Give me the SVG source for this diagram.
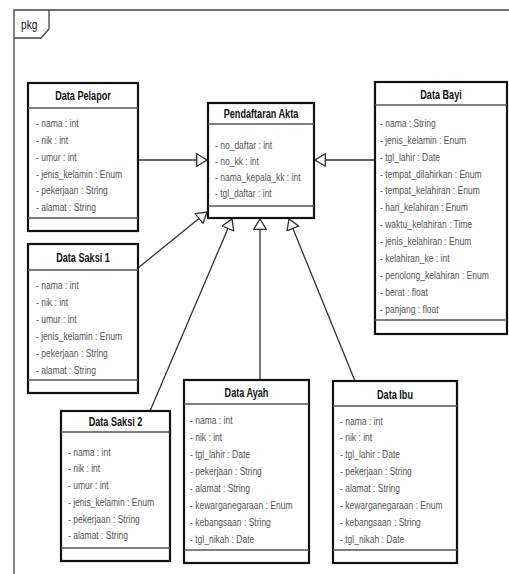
<svg xmlns="http://www.w3.org/2000/svg" width="509" height="574" viewBox="0 0 509 574">
<style>
.box{fill:#fff;stroke:#111;stroke-width:2.2}
.div{stroke:#555;stroke-width:1.5}
.t{font-family:"Liberation Sans",Arial,sans-serif;font-size:12px;font-weight:bold;fill:#111;text-anchor:middle}
.a{font-family:"Liberation Sans",Arial,sans-serif;font-size:11.5px;fill:#555}
.frame{fill:none;stroke:#444;stroke-width:1.3}
.conn{fill:none;stroke:#333;stroke-width:1.3}
</style>
<defs>
<marker id="tri" viewBox="0 0 12 14" refX="11" refY="7" markerWidth="12" markerHeight="14" markerUnits="userSpaceOnUse" orient="auto">
<path d="M0.7,0.7 L11,7 L0.7,13.3 Z" fill="#fff" stroke="#333" stroke-width="1.3"/>
</marker>
</defs>
<rect width="509" height="574" fill="#fff"/>
<g id="frame">
<path class="frame" d="M14,574 V10 H509"/>
<path class="frame" d="M14,38 H41 L49,29 V10"/>
<text class="a" style="fill:#111;font-size:12px" transform="translate(21,29) scale(.85,1)">pkg</text>
</g>
<g id="connectors">
<path class="conn" d="M138,160 L207,160" marker-end="url(#tri)"/>
<path class="conn" d="M375,160 L315,160" marker-end="url(#tri)"/>
<path class="conn" d="M138,268 L207,212" marker-end="url(#tri)"/>
<path class="conn" d="M150,411 L232,219" marker-end="url(#tri)"/>
<path class="conn" d="M260,380 L260,219" marker-end="url(#tri)"/>
<path class="conn" d="M355,381 L289,219" marker-end="url(#tri)"/>
</g>
<g id="data-pelapor">
<rect class="box" x="28" y="83" width="110" height="148"/>
<line class="div" x1="28" y1="108" x2="138" y2="108"/>
<line class="div" x1="28" y1="218" x2="138" y2="218"/>
<text class="t" transform="translate(83,100) scale(.76,1)">Data Pelapor</text>
<text class="a" transform="translate(36,127) scale(.74,1)">- nama : int</text>
<text class="a" transform="translate(36,144) scale(.74,1)">- nik : int</text>
<text class="a" transform="translate(36,161) scale(.74,1)">- umur : int</text>
<text class="a" transform="translate(36,178) scale(.74,1)">- jenis_kelamin : Enum</text>
<text class="a" transform="translate(36,194) scale(.74,1)">- pekerjaan : String</text>
<text class="a" transform="translate(36,211) scale(.74,1)">- alamat : String</text>
</g>
<g id="data-saksi-1">
<rect class="box" x="28" y="244" width="110" height="149"/>
<line class="div" x1="28" y1="270" x2="138" y2="270"/>
<line class="div" x1="28" y1="380" x2="138" y2="380"/>
<text class="t" transform="translate(83,262) scale(.76,1)">Data Saksi 1</text>
<text class="a" transform="translate(36,289) scale(.74,1)">- nama : int</text>
<text class="a" transform="translate(36,306) scale(.74,1)">- nik : int</text>
<text class="a" transform="translate(36,323) scale(.74,1)">- umur : int</text>
<text class="a" transform="translate(36,340) scale(.74,1)">- jenis_kelamin : Enum</text>
<text class="a" transform="translate(36,357) scale(.74,1)">- pekerjaan : String</text>
<text class="a" transform="translate(36,374) scale(.74,1)">- alamat : String</text>
</g>
<g id="data-saksi-2">
<rect class="box" x="61" y="411" width="109" height="150"/>
<line class="div" x1="61" y1="432" x2="170" y2="432"/>
<line class="div" x1="61" y1="548" x2="170" y2="548"/>
<text class="t" transform="translate(115.5,426) scale(.76,1)">Data Saksi 2</text>
<text class="a" transform="translate(68,456) scale(.74,1)">- nama : int</text>
<text class="a" transform="translate(68,472) scale(.74,1)">- nik : int</text>
<text class="a" transform="translate(68,489) scale(.74,1)">- umur : int</text>
<text class="a" transform="translate(68,506) scale(.74,1)">- jenis_kelamin : Enum</text>
<text class="a" transform="translate(68,523) scale(.74,1)">- pekerjaan : String</text>
<text class="a" transform="translate(68,539) scale(.74,1)">- alamat : String</text>
</g>
<g id="pendaftaran-akta">
<rect class="box" x="208" y="103" width="106" height="115"/>
<line class="div" x1="208" y1="124" x2="314" y2="124"/>
<line class="div" x1="208" y1="206" x2="314" y2="206"/>
<text class="t" transform="translate(261,118) scale(.76,1)">Pendaftaran Akta</text>
<text class="a" transform="translate(215,149) scale(.74,1)">- no_daftar : int</text>
<text class="a" transform="translate(215,165) scale(.74,1)">- no_kk : int</text>
<text class="a" transform="translate(215,181) scale(.74,1)">- nama_kepala_kk : int</text>
<text class="a" transform="translate(215,197) scale(.74,1)">- tgl_daftar : int</text>
</g>
<g id="data-bayi">
<rect class="box" x="375" y="82" width="132" height="252"/>
<line class="div" x1="375" y1="105" x2="507" y2="105"/>
<line class="div" x1="375" y1="320" x2="507" y2="320"/>
<text class="t" transform="translate(441,99) scale(.76,1)">Data Bayi</text>
<text class="a" transform="translate(380,127) scale(.74,1)">- nama : String</text>
<text class="a" transform="translate(380,144) scale(.74,1)">- jenis_kelamin : Enum</text>
<text class="a" transform="translate(380,161) scale(.74,1)">- tgl_lahir : Date</text>
<text class="a" transform="translate(380,178) scale(.74,1)">- tempat_dilahirkan : Enum</text>
<text class="a" transform="translate(380,194) scale(.74,1)">- tempat_kelahiran : Enum</text>
<text class="a" transform="translate(380,211) scale(.74,1)">- hari_kelahiran : Enum</text>
<text class="a" transform="translate(380,228) scale(.74,1)">- waktu_kelahiran : Time</text>
<text class="a" transform="translate(380,245) scale(.74,1)">- jenis_kelahiran : Enum</text>
<text class="a" transform="translate(380,262) scale(.74,1)">- kelahiran_ke : int</text>
<text class="a" transform="translate(380,279) scale(.74,1)">- penolong_kelahiran : Enum</text>
<text class="a" transform="translate(380,296) scale(.74,1)">- berat : float</text>
<text class="a" transform="translate(380,313) scale(.74,1)">- panjang : float</text>
</g>
<g id="data-ayah">
<rect class="box" x="184" y="380" width="125" height="183"/>
<line class="div" x1="184" y1="404" x2="309" y2="404"/>
<line class="div" x1="184" y1="550" x2="309" y2="550"/>
<text class="t" transform="translate(246.5,397) scale(.76,1)">Data Ayah</text>
<text class="a" transform="translate(190,424) scale(.74,1)">- nama : int</text>
<text class="a" transform="translate(190,441) scale(.74,1)">- nik : int</text>
<text class="a" transform="translate(190,458) scale(.74,1)">- tgl_lahir : Date</text>
<text class="a" transform="translate(190,475) scale(.74,1)">- pekerjaan : String</text>
<text class="a" transform="translate(190,492) scale(.74,1)">- alamat : String</text>
<text class="a" transform="translate(190,509) scale(.74,1)">- kewarganegaraan : Enum</text>
<text class="a" transform="translate(190,526) scale(.74,1)">- kebangsaan : String</text>
<text class="a" transform="translate(190,543) scale(.74,1)">- tgl_nikah : Date</text>
</g>
<g id="data-ibu">
<rect class="box" x="333" y="381" width="124" height="182"/>
<line class="div" x1="333" y1="406" x2="457" y2="406"/>
<line class="div" x1="333" y1="550" x2="457" y2="550"/>
<text class="t" transform="translate(395,399) scale(.76,1)">Data Ibu</text>
<text class="a" transform="translate(340,425) scale(.74,1)">- nama : int</text>
<text class="a" transform="translate(340,441) scale(.74,1)">- nik : int</text>
<text class="a" transform="translate(340,458) scale(.74,1)">- tgl_lahir : Date</text>
<text class="a" transform="translate(340,475) scale(.74,1)">- pekerjaan : String</text>
<text class="a" transform="translate(340,492) scale(.74,1)">- alamat : String</text>
<text class="a" transform="translate(340,509) scale(.74,1)">- kewarganegaraan : Enum</text>
<text class="a" transform="translate(340,526) scale(.74,1)">- kebangsaan : String</text>
<text class="a" transform="translate(340,543) scale(.74,1)">- tgl_nikah : Date</text>
</g>
</svg>
